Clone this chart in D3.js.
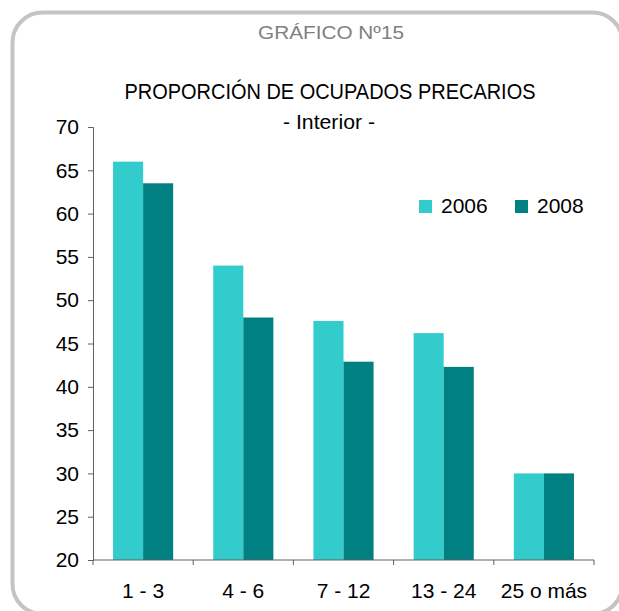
<!DOCTYPE html>
<html>
<head>
<meta charset="utf-8">
<script src="https://cdn.jsdelivr.net/npm/d3@7"></script>
<style>
  body { margin: 0; background: #fff; overflow: hidden; }
  text { font-family: "Liberation Sans", Arial, sans-serif; }
</style>
</head>
<body>
<div id="chart"></div>
<script>
// data
var categories = ["1 - 3", "4 - 6", "7 - 12", "13 - 24", "25 o más"];
var series = ["2006", "2008"];
var values2006 = [66.0, 54.0, 47.6, 46.2, 30.0];
var values2008 = [63.5, 48.0, 42.9, 42.3, 30.0];
var yTicks = [20, 25, 30, 35, 40, 45, 50, 55, 60, 65, 70];
var colors = ["#33cccc", "#008080"];

var width = 619, height = 611;
var margin = {top: 127, left: 93};
var plotW = 501, plotH = 433;

var svg = d3.select("#chart").append("svg")
    .attr("width", width)
    .attr("height", height)
    .style("display", "block");

// rounded frame (right and bottom edges run past the picture)
svg.append("rect")
    .attr("x", 12.5).attr("y", 12.5)
    .attr("width", 610).attr("height", 601.5)
    .attr("rx", 30).attr("ry", 30)
    .attr("fill", "none")
    .attr("stroke", "#c4c4c4")
    .attr("stroke-width", 4);

// titles
svg.append("text").attr("x", 331).attr("y", 39)
    .attr("text-anchor", "middle").attr("fill", "#808080")
    .style("font-size", "19px")
    .attr("textLength", 146).attr("lengthAdjust", "spacingAndGlyphs")
    .text("GRÁFICO Nº15");
svg.append("text").attr("x", 330).attr("y", 99)
    .attr("text-anchor", "middle").attr("fill", "#000")
    .style("font-size", "22px")
    .attr("textLength", 411).attr("lengthAdjust", "spacingAndGlyphs")
    .text("PROPORCIÓN DE OCUPADOS PRECARIOS");
svg.append("text").attr("x", 329).attr("y", 129)
    .attr("text-anchor", "middle").attr("fill", "#000")
    .style("font-size", "20px")
    .attr("textLength", 92).attr("lengthAdjust", "spacingAndGlyphs")
    .text("- Interior -");

var g = svg.append("g")
    .attr("transform", "translate(" + margin.left + "," + margin.top + ")");

var x0 = d3.scaleBand().domain(categories).range([0, plotW]).paddingInner(0.4).paddingOuter(0.2);
var x1 = d3.scaleBand().domain(series).range([0, x0.bandwidth()]);
var y = d3.scaleLinear().domain([20, 70]).range([plotH, 0]);

var rows = categories.map(function(c, i) {
    return {cat: c, vals: [values2006[i], values2008[i]]};
});

var groups = g.selectAll("g.grp").data(rows).enter().append("g")
    .attr("class", "grp")
    .attr("transform", function(d) { return "translate(" + x0(d.cat) + ",0)"; });

groups.selectAll("rect").data(function(d) {
        return d.vals.map(function(v, j) { return {s: series[j], v: v, j: j}; });
    })
    .enter().append("rect")
    .attr("x", function(d) { return x1(d.s); })
    .attr("width", x1.bandwidth())
    .attr("y", function(d) { return y(d.v); })
    .attr("height", function(d) { return y(20) - y(d.v); })
    .attr("fill", function(d) { return colors[d.j]; });

// y axis
var yAxis = g.append("g")
    .call(d3.axisLeft(y).tickValues(yTicks).tickSize(5).tickPadding(9));
yAxis.select(".domain").attr("stroke", "#606060");
yAxis.selectAll(".tick line").attr("stroke", "#606060");
yAxis.selectAll("text").style("font-size", "21px").attr("fill", "#000")
    .attr("font-family", "Liberation Sans, Arial, sans-serif");

// x axis: ticks at band boundaries
var xAxis = g.append("g").attr("transform", "translate(0," + y(20) + ")");
xAxis.append("line").attr("x1", 0).attr("x2", plotW).attr("stroke", "#606060");
var bounds = d3.range(categories.length + 1).map(function(i) { return i * plotW / categories.length; });
xAxis.selectAll("line.tk").data(bounds).enter().append("line")
    .attr("class", "tk")
    .attr("x1", function(d) { return d; }).attr("x2", function(d) { return d; })
    .attr("y1", 0).attr("y2", 5).attr("stroke", "#606060");
xAxis.selectAll("text").data(categories).enter().append("text")
    .attr("x", function(d) { return x0(d) + x0.bandwidth() / 2; })
    .attr("y", 38)
    .attr("text-anchor", "middle")
    .style("font-size", "21px")
    .text(function(d) { return d; });

// legend
var leg = svg.append("g").selectAll("g").data(series).enter().append("g")
    .attr("transform", function(d, i) { return "translate(" + (419 + i * 96) + ",200)"; });
leg.append("rect").attr("width", 13).attr("height", 13)
    .attr("fill", function(d, i) { return colors[i]; });
leg.append("text").attr("x", 22).attr("y", 13)
    .style("font-size", "21px")
    .text(function(d) { return d; });
</script>
</body>
</html>
